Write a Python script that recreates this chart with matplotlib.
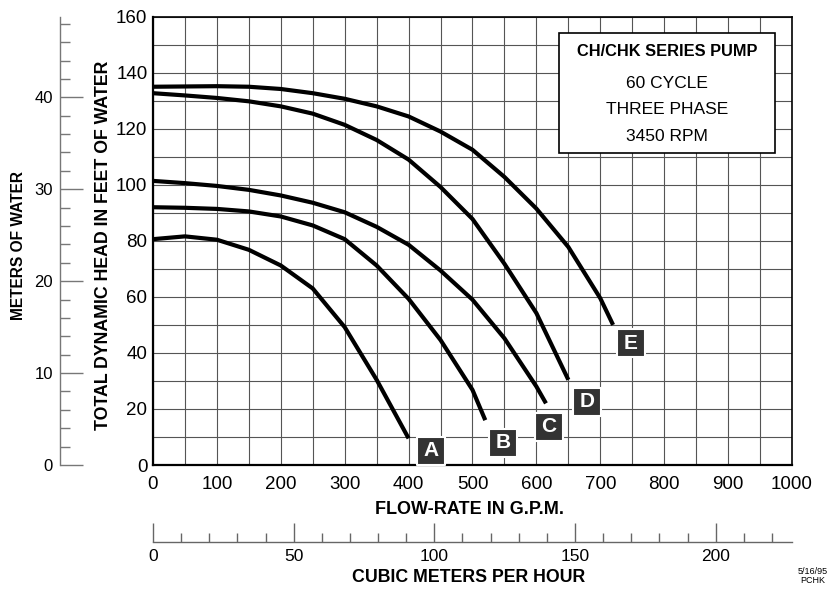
import matplotlib

matplotlib.use("Agg")
import matplotlib.pyplot as plt
from matplotlib.patches import Rectangle
from matplotlib.ticker import MultipleLocator

plt.rcParams["font.family"] = ["Liberation Sans", "DejaVu Sans"]

# Pump curves: flow (GPM) vs total dynamic head (ft)
gpm_a = [0, 50, 100, 150, 200, 250, 300, 350, 400]
head_a = [80.6, 81.6, 80.4, 76.8, 71.2, 63.0, 49.2, 30.4, 9.5]

gpm_b = [0, 50, 100, 150, 200, 250, 300, 350, 400, 450, 500, 520]
head_b = [92.0, 91.8, 91.4, 90.5, 88.7, 85.5, 80.6, 71.2, 59.3, 44.6, 26.8, 16.0]

gpm_c = [0, 50, 100, 150, 200, 250, 300, 350, 400, 450, 500, 550, 600, 615]
head_c = [101.4, 100.6, 99.6, 98.2, 96.2, 93.6, 90.2, 85.0, 78.6, 69.4, 59.0, 45.2, 28.0, 22.0]

gpm_d = [0, 50, 100, 150, 200, 250, 300, 350, 400, 450, 500, 550, 600, 650]
head_d = [132.7, 131.9, 131.0, 129.8, 128.0, 125.4, 121.4, 116.0, 109.0, 99.2, 87.8, 71.8, 54.2, 30.4]

gpm_e = [0, 50, 100, 150, 200, 250, 300, 350, 400, 450, 500, 550, 600, 650, 700, 720]
head_e = [135.0, 135.1, 135.2, 135.0, 134.2, 132.7, 130.7, 128.0, 124.4, 119.0, 112.5, 102.8,
          91.5, 77.8, 59.5, 50.0]

curve_names = ["A", "B", "C", "D", "E"]
label_gpm = [435, 548, 620, 679, 748]
label_head = [5.0, 8.0, 13.7, 22.6, 43.5]

x_ticks = list(range(0, 1001, 100))
y_ticks = list(range(0, 161, 20))
meter_ticks = [0, 10, 20, 30, 40]
cmh_ticks = [0, 50, 100, 150, 200]

info_title = "CH/CHK SERIES PUMP"
info_lines = ["60 CYCLE", "THREE PHASE", "3450 RPM"]

FT_PER_M = 3.28084
GPM_PER_CMH = 4.40287

W, H = 837, 589
fig = plt.figure(figsize=(W / 100, H / 100), dpi=100)
ax = fig.add_axes([153 / W, 1 - 465 / H, 639 / W, 448.3 / H])

ax.set_xlim(0, 1000)
ax.set_ylim(0, 160)
ax.set_xticks(x_ticks)
ax.set_yticks(y_ticks)
ax.xaxis.set_minor_locator(MultipleLocator(50))
ax.yaxis.set_minor_locator(MultipleLocator(10))
ax.tick_params(which="both", length=0)
ax.tick_params(axis="x", labelsize=13.5, pad=8)
ax.tick_params(axis="y", labelsize=13.5, pad=4)
ax.set_axisbelow(True)
ax.grid(which="both", color="#555555", linewidth=0.8)
for side, lw in (("left", 1.6), ("bottom", 1.6), ("top", 1.2), ("right", 1.2)):
    ax.spines[side].set_linewidth(lw)
    ax.spines[side].set_color("black")

for g, h in ((gpm_a, head_a), (gpm_b, head_b), (gpm_c, head_c), (gpm_d, head_d), (gpm_e, head_e)):
    ax.plot(g, h, color="black", linewidth=3.0, solid_capstyle="butt",
            solid_joinstyle="round", zorder=3)

# letter tags at the curve ends
ax.scatter(label_gpm, label_head, marker="s", s=20 ** 2, color="#333333",
           edgecolors="white", linewidths=1.5, zorder=5)
for name, gx, hy in zip(curve_names, label_gpm, label_head):
    ax.text(gx, hy, name, color="white", fontsize=15, fontweight="bold",
            ha="center", va="center", zorder=6)

# info box
ax.add_patch(Rectangle((635, 111.3), 338.6, 42.9, facecolor="white",
                       edgecolor="black", linewidth=1.2, zorder=4))
ax.text(804, 147.6, info_title, fontsize=11.8, fontweight="bold",
        ha="center", va="center", zorder=5)
for line, hy in zip(info_lines, [136.3, 127.0, 117.2]):
    ax.text(804, hy, line, fontsize=12.5, ha="center", va="center", zorder=5)

# meters of water scale on the far left
sec_y = ax.secondary_yaxis(-93 / 639, functions=(lambda f: f / FT_PER_M,
                                                   lambda m: m * FT_PER_M))
sec_y.set_yticks(meter_ticks)
sec_y.yaxis.set_minor_locator(MultipleLocator(2))
sec_y.tick_params(which="major", direction="in", length=16.5, width=1.0,
                  color="#777777", labelsize=12, pad=5)
sec_y.tick_params(which="minor", direction="in", length=7.5, width=1.0,
                  color="#777777")
sec_y.spines["left"].set_color("#777777")
sec_y.spines["left"].set_linewidth(1.0)

# cubic meters per hour scale below
sec_x = ax.secondary_xaxis(-77.3 / 448.3, functions=(lambda q: q / GPM_PER_CMH,
                                                       lambda c: c * GPM_PER_CMH))
sec_x.set_xticks(cmh_ticks)
sec_x.xaxis.set_minor_locator(MultipleLocator(10))
sec_x.tick_params(which="major", direction="in", length=13.5, width=1.0,
                  color="#666666", labelsize=12.5, pad=5)
sec_x.tick_params(which="minor", direction="in", length=6.5, width=1.0,
                  color="#666666")
sec_x.spines["bottom"].set_color("#666666")
sec_x.spines["bottom"].set_linewidth(1.0)

# axis titles
fig.text(469.7 / W, 1 - 509 / H, "FLOW-RATE IN G.P.M.", fontsize=13,
         fontweight="bold", ha="center", va="center")
fig.text(468.5 / W, 1 - 578 / H, "CUBIC METERS PER HOUR", fontsize=12.8,
         fontweight="bold", ha="center", va="center")
fig.text(103.5 / W, 1 - 245 / H, "TOTAL DYNAMIC HEAD IN FEET OF WATER",
         fontsize=12.8, fontweight="bold", rotation=90, ha="center", va="center")
fig.text(19 / W, 1 - 246 / H, "METERS OF WATER", fontsize=11.2,
         fontweight="bold", rotation=90, ha="center", va="center")
fig.text(813 / W, 1 - 576 / H, "5/16/95\nPCHK", fontsize=6.5, ha="center",
         va="center", linespacing=0.9)

fig.savefig("out.png", dpi=100)
